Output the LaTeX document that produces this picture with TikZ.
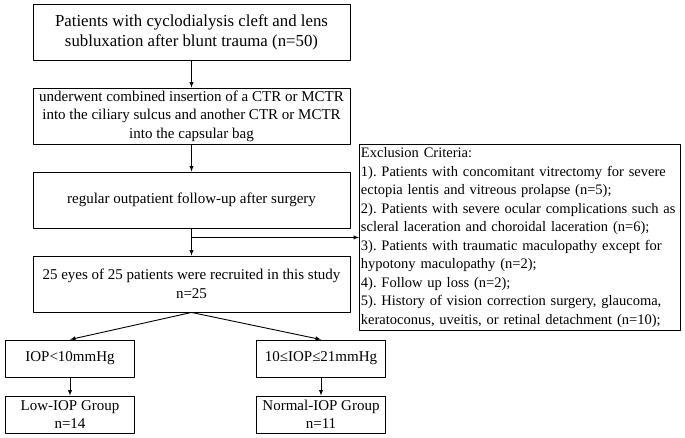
\documentclass[tikz,border=0pt]{standalone}
\usepackage{fontspec}
\setmainfont{Liberation Serif}
\usetikzlibrary{arrows,positioning}
\frenchspacing
\tikzset{box/.style={
            draw,
            line width=0.9pt,
            align=center,
            inner sep=1pt,
            minimum width=317pt,
            minimum height=56pt,
            font=\fontsize{15pt}{18.5pt}\selectfont
        },
        smallbox/.style={
            draw,
            line width=0.9pt,
            align=center,
            inner sep=1pt,
            minimum width=129pt,
            minimum height=37pt,
            font=\fontsize{15pt}{18.5pt}\selectfont
        },
        exclbox/.style={
            draw,
            line width=0.9pt,
            align=left,
            inner xsep=1.5pt,
            inner ysep=1pt,
            text width=318pt,
            minimum height=186pt,
            font=\fontsize{14.5pt}{18.5pt}\selectfont
        },
        arr/.style={
            ->,
            >=latex,
            line width=0.9pt
        }
    }

\begin{document}
\begin{tikzpicture}[x=1pt,y=-1pt,line join=round]
\useasboundingbox (0,0) rectangle (685,438);
% main column
\node[box,font=\fontsize{16.8pt}{20pt}\selectfont] (patients) at (191.5,32) {Patients with cyclodialysis cleft and lens\\subluxation after blunt trauma (n=50)};
\node[box] (surgery) at (191.5,116) {underwent combined insertion of a CTR or MCTR\\into the ciliary sulcus and another CTR or MCTR\\into the capsular bag};
\node[box] (followup) at (191.5,200) {regular outpatient follow-up after surgery};
\node[box] (recruited) at (191.5,284) {25 eyes of 25 patients were recruited in this study\\n=25};
% exclusion
\node[exclbox,anchor=north west] (exclusion) at (359,144) {\mbox{Exclusion Criteria:}\\
\mbox{1). Patients with concomitant vitrectomy for severe}\\
\mbox{ectopia lentis and vitreous prolapse (n=5);}\\
\mbox{2). Patients with severe ocular complications such as}\\
\mbox{scleral laceration and choroidal laceration (n=6);}\\
\mbox{3). Patients with traumatic maculopathy except for}\\
\mbox{hypotony maculopathy (n=2);}\\
\mbox{4). Follow up loss (n=2);}\\
\mbox{5). History of vision correction surgery, glaucoma,}\\
\mbox{keratoconus, uveitis, or retinal detachment (n=10);}};
% groups
\node[smallbox] (lowiop) at (70,358.5) {IOP<10mmHg};
\node[smallbox] (normaliop) at (321,358.5) {10≤IOP≤21mmHg};
\node[smallbox] (lowgroup) at (70,414.5) {Low-IOP Group\\n=14};
\node[smallbox] (normalgroup) at (321,414.5) {Normal-IOP Group\\n=11};
\coordinate (branch) at (followup.south |- exclusion.west);
\draw[arr] (patients) -- (surgery);
\draw[arr] (surgery) -- (followup);
\draw[arr] (followup) -- (recruited);
\draw[arr] (branch) -- (exclusion.west);
\draw[arr] (recruited.south) -- (lowiop.north);
\draw[arr] (recruited.south) -- (normaliop.north);
\draw[arr] (lowiop) -- (lowgroup);
\draw[arr] (normaliop) -- (normalgroup);
\end{tikzpicture}
\end{document}
